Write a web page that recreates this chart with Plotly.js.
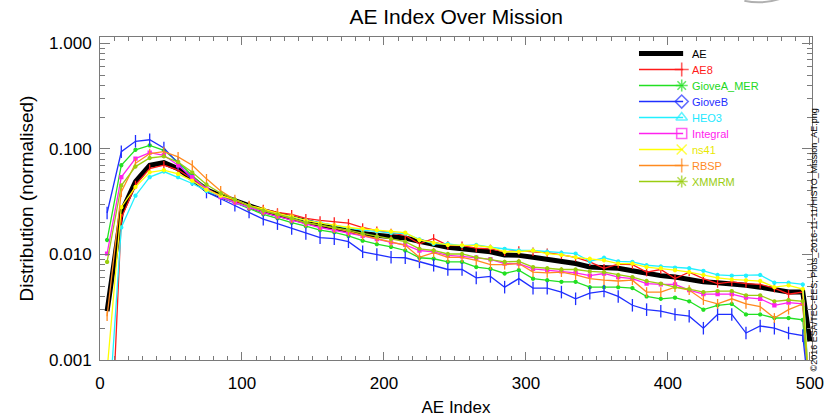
<!DOCTYPE html>
<html>
<head>
<meta charset="utf-8">
<script src="https://cdn.plot.ly/plotly-3.0.1.min.js"></script>
<style>html,body{margin:0;padding:0;background:#fff;}#chart{width:825px;height:420px;}</style>
</head>
<body>
<div id="chart"></div>
<script>
// AE index bin centres
const aeIndex = [5,15,25,35,45,55,65,75,85,95,
  105,115,125,135,145,155,165,175,185,195,
  205,215,225,235,245,255,265,275,285,295,
  305,315,325,335,345,355,365,375,385,395,
  405,415,425,435,445,455,465,475,485,495,500];

const seriesNames = ['AE','AE8','GioveA_MER','GioveB','HEO3','Integral','ns41','RBSP','XMMRM'];

const ae = [0.0029,0.025,0.049,0.070,0.074,0.065,0.052,0.041,0.036,0.032,
  0.029,0.026,0.024,0.022,0.0205,0.019,0.018,0.0168,0.0158,0.0152,
  0.0148,0.0143,0.0133,0.0123,0.0117,0.0113,0.0109,0.0106,0.0099,0.0098,
  0.0094,0.0090,0.0086,0.0082,0.0076,0.0075,0.0074,0.0070,0.0066,0.0063,
  0.0061,0.0058,0.0055,0.0054,0.0053,0.0051,0.0049,0.0046,0.0044,0.0044,0.0015];

const ae8 = [0.00002,0.022,0.0455,0.065,0.070,0.063,0.052,0.042,0.036,0.032,
  0.029,0.027,0.025,0.024,0.022,0.021,0.0205,0.0198,0.018,0.0168,
  0.0160,0.0151,0.0126,0.0142,0.0122,0.0121,0.0115,0.0113,0.0106,0.0109,
  0.0106,0.0104,0.0099,0.0094,0.0085,0.0074,0.0081,0.0080,0.0068,0.0072,
  0.0059,0.0068,0.0059,0.0053,0.0055,0.0053,0.0052,0.0048,0.0042,0.0044,0.0004];

const gioveA = [0.0137,0.070,0.098,0.108,0.097,0.075,0.056,0.042,0.035,0.031,
  0.027,0.024,0.022,0.020,0.0185,0.017,0.0162,0.015,0.0135,0.0125,
  0.0118,0.0109,0.0093,0.0091,0.0085,0.0085,0.0076,0.0073,0.0066,0.0071,
  0.0059,0.0057,0.0055,0.0055,0.0049,0.0049,0.0049,0.0048,0.0040,0.0038,
  0.0039,0.0036,0.0030,0.0033,0.0034,0.0027,0.0027,0.0025,0.0025,0.0024,0.0004];

const gioveB = [0.0247,0.094,0.118,0.122,0.102,0.073,0.051,0.039,0.0337,0.0292,
  0.0252,0.0216,0.0196,0.0176,0.0158,0.0144,0.0141,0.0132,0.0106,0.0100,
  0.0094,0.0093,0.0085,0.0079,0.0072,0.0072,0.0060,0.0062,0.0049,0.0059,
  0.0048,0.0048,0.0044,0.0038,0.0043,0.0045,0.0040,0.0033,0.0030,0.0029,
  0.0027,0.0026,0.0020,0.0027,0.0027,0.0018,0.0021,0.0020,0.0018,0.0017,0.0004];

const heo3 = [0.00018,0.018,0.036,0.054,0.061,0.054,0.047,0.040,0.035,0.031,
  0.028,0.026,0.024,0.0225,0.021,0.020,0.0188,0.0178,0.017,0.0165,
  0.016,0.0158,0.0139,0.0126,0.0126,0.0121,0.0123,0.0117,0.0113,0.0109,
  0.0109,0.0106,0.0104,0.0102,0.0086,0.0093,0.0086,0.0085,0.0079,0.0077,
  0.0075,0.0074,0.0070,0.0064,0.0063,0.0063,0.0064,0.0054,0.0054,0.0052,0.0004];

const integral = [0.0102,0.054,0.081,0.092,0.087,0.070,0.054,0.042,0.035,0.031,
  0.028,0.025,0.023,0.021,0.0195,0.018,0.017,0.016,0.015,0.014,
  0.013,0.0123,0.0109,0.0106,0.0098,0.0096,0.0093,0.0090,0.0082,0.0082,
  0.0073,0.0071,0.0069,0.0067,0.0063,0.0066,0.0061,0.0059,0.0053,0.0052,
  0.0052,0.0046,0.0042,0.0042,0.0042,0.0039,0.0038,0.0033,0.0035,0.0034,0.0004];

const ns41 = [0.0008,0.028,0.0436,0.060,0.063,0.058,0.050,0.041,0.036,0.033,
  0.029,0.027,0.0245,0.023,0.021,0.0198,0.019,0.018,0.0175,0.017,
  0.0165,0.0161,0.0137,0.0129,0.0123,0.0122,0.0121,0.0117,0.0106,0.0106,
  0.0109,0.0102,0.0099,0.0094,0.0091,0.0088,0.0082,0.0082,0.0076,0.0074,
  0.0071,0.0068,0.0064,0.0060,0.0058,0.0057,0.0056,0.0049,0.0051,0.0047,0.0004];

const rbsp = [0.0026,0.039,0.073,0.090,0.094,0.084,0.070,0.052,0.040,0.033,
  0.029,0.026,0.024,0.022,0.020,0.019,0.0178,0.0165,0.0152,0.0142,
  0.0132,0.0122,0.0094,0.0104,0.0094,0.0094,0.0088,0.0080,0.0080,0.0082,
  0.0068,0.0067,0.0068,0.0064,0.0059,0.0057,0.0056,0.0057,0.0044,0.0044,
  0.0049,0.0046,0.0037,0.0034,0.0038,0.0034,0.0032,0.0025,0.0030,0.0034,0.0004];

const xmmrm = [0.0085,0.045,0.068,0.082,0.085,0.075,0.060,0.046,0.038,0.033,
  0.029,0.026,0.024,0.022,0.020,0.019,0.018,0.017,0.0158,0.0148,
  0.014,0.0132,0.0113,0.0109,0.0101,0.0101,0.0094,0.0090,0.0085,0.0086,
  0.0076,0.0074,0.0072,0.0072,0.0069,0.0068,0.0064,0.0061,0.0056,0.0053,
  0.0049,0.0047,0.0044,0.0045,0.0045,0.0041,0.0041,0.0036,0.0037,0.0036,0.0004];

const yTickVals = [0.001, 0.01, 0.1, 1];
const yTickText = ['0.001', '0.010', '0.100', '1.000'];

const values = [ae, ae8, gioveA, gioveB, heo3, integral, ns41, rbsp, xmmrm];
const colors = ['#000000','#ff1a1a','#22e022','#1f2fff','#22f0ff','#ff22ee','#ffff00','#ff8a1f','#9acd10'];
const textColors = ['#000000','#ff1a1a','#22d822','#1f2fff','#22e8ff','#ff22ee','#e8e800','#ff8a1f','#9acd10'];
const plotSymbols = [null,'line-ns','circle','line-ns','circle','square','circle','line-ns','circle'];
const plotSizes = [0,6,3,9,3,3,3,7,3];
const legendSymbols = ['circle','cross-thin-open','asterisk-open','diamond-open','triangle-up-open','square-open','x-thin-open','cross-thin-open','asterisk-open'];

const traces = [];
for (let i = 0; i < values.length; i++) {
  const t = {
    x: aeIndex, y: values[i], type: 'scatter', showlegend: false,
    name: seriesNames[i], hoverinfo: 'x+y+name',
    line: {color: colors[i], width: i === 0 ? 5 : 1.3}
  };
  if (i === 0) {
    t.mode = 'lines';
  } else {
    t.mode = 'lines+markers';
    t.marker = {symbol: plotSymbols[i], size: plotSizes[i], color: colors[i],
                line: {color: colors[i], width: 1.3}};
  }
  traces.push(t);
}

// ---- custom legend (layout positions, paper-like coordinates on a hidden overlay axis) ----
const legX0 = 0.757, legX1 = 0.819, legTextX = 0.829;
const legTop = 0.9489, legStep = 0.04954;
const shapes = [];
const annotations = [];
const legMarkX = [], legMarkY = [], legSym = [], legCol = [], legSize = [];
for (let i = 0; i < seriesNames.length; i++) {
  const yy = legTop - i * legStep;
  shapes.push({type: 'line', xref: 'paper', yref: 'paper', x0: legX0, x1: legX1, y0: yy, y1: yy,
               line: {color: colors[i], width: i === 0 ? 5 : 1.3}});
  annotations.push({text: seriesNames[i], xref: 'paper', yref: 'paper', x: legTextX, y: yy,
                    xanchor: 'left', yanchor: 'middle', showarrow: false,
                    font: {size: 11, color: textColors[i], family: 'Liberation Sans, Arial, sans-serif'}});
  if (i > 0) {
    legMarkX.push(legX1 - 0.002); legMarkY.push(yy);
    legSym.push(legendSymbols[i]); legCol.push(colors[i]); legSize.push(10);
  }
}
traces.push({
  x: legMarkX, y: legMarkY, xaxis: 'x2', yaxis: 'y2', type: 'scatter', mode: 'markers',
  showlegend: false, hoverinfo: 'skip', cliponaxis: false,
  marker: {symbol: legSym, size: legSize, color: legCol, line: {color: legCol, width: 1.6}}
});

annotations.push({
  text: '©2016 ESA/TEC-EES; Plots_2016-11-11/HISTO_Mission_AE.png',
  xref: 'paper', yref: 'paper', x: 1, y: 0.37, xshift: 9, textangle: -90,
  showarrow: false, font: {size: 9, color: '#000', family: 'Liberation Sans, Arial, sans-serif'}
});
shapes.push(
  {type: 'path', xref: 'paper', yref: 'paper',
   path: 'M 0.905 1.112 Q 0.93 1.10 0.955 1.118', line: {color: '#b0b0b0', width: 2}},
  {type: 'path', xref: 'paper', yref: 'paper',
   path: 'M 0.915 1.13 Q 0.94 1.115 0.96 1.13', line: {color: '#c0c0c0', width: 2}}
);

const minorY = [];
[0.001, 0.01, 0.1].forEach(function(d){ for (let k = 2; k <= 9; k++) minorY.push(d * k); });

const axisColor = '#7a7a7a';
const layout = {
  width: 825, height: 420,
  margin: {l: 100, r: 13, t: 37, b: 60},
  paper_bgcolor: '#ffffff', plot_bgcolor: '#ffffff',
  showlegend: false,
  font: {family: 'Liberation Sans, Arial, sans-serif', size: 17, color: '#000'},
  title: {text: 'AE Index Over Mission', x: 0.553, xanchor: 'center', y: 0.96, yanchor: 'middle',
          font: {size: 21, family: 'Liberation Sans, Arial, sans-serif', color: '#000'}},
  xaxis: {
    range: [0, 501.5], showgrid: false, zeroline: false,
    showline: true, linecolor: axisColor, linewidth: 1, mirror: 'allticks',
    ticks: 'inside', ticklen: 8, tickcolor: axisColor, tickwidth: 1,
    tickmode: 'linear', tick0: 0, dtick: 100,
    minor: {ticks: 'inside', ticklen: 4, tickcolor: axisColor, dtick: 10, tick0: 0, showgrid: false},
    tickfont: {size: 17}, ticklabelstandoff: 8,
    title: {text: 'AE Index', font: {size: 17}, standoff: 8}
  },
  yaxis: {
    type: 'log', range: [-3, 0.06], showgrid: false, zeroline: false,
    showline: true, linecolor: axisColor, linewidth: 1, mirror: 'allticks',
    ticks: 'inside', ticklen: 10, tickcolor: axisColor, tickwidth: 1,
    tickmode: 'array', tickvals: yTickVals, ticktext: yTickText,
    minor: {ticks: 'inside', ticklen: 5, tickcolor: axisColor, tickmode: 'array', tickvals: minorY, showgrid: false},
    tickfont: {size: 17}, ticklabelstandoff: 4,
    title: {text: 'Distribution (normalised)', font: {size: 19}, standoff: 10}
  },
  xaxis2: {overlaying: 'x', range: [0, 1], visible: false, fixedrange: true},
  yaxis2: {overlaying: 'y', range: [0, 1], visible: false, fixedrange: true},
  annotations: annotations,
  shapes: shapes
};

Plotly.newPlot('chart', traces, layout, {displayModeBar: false, staticPlot: true});
</script>
</body>
</html>
